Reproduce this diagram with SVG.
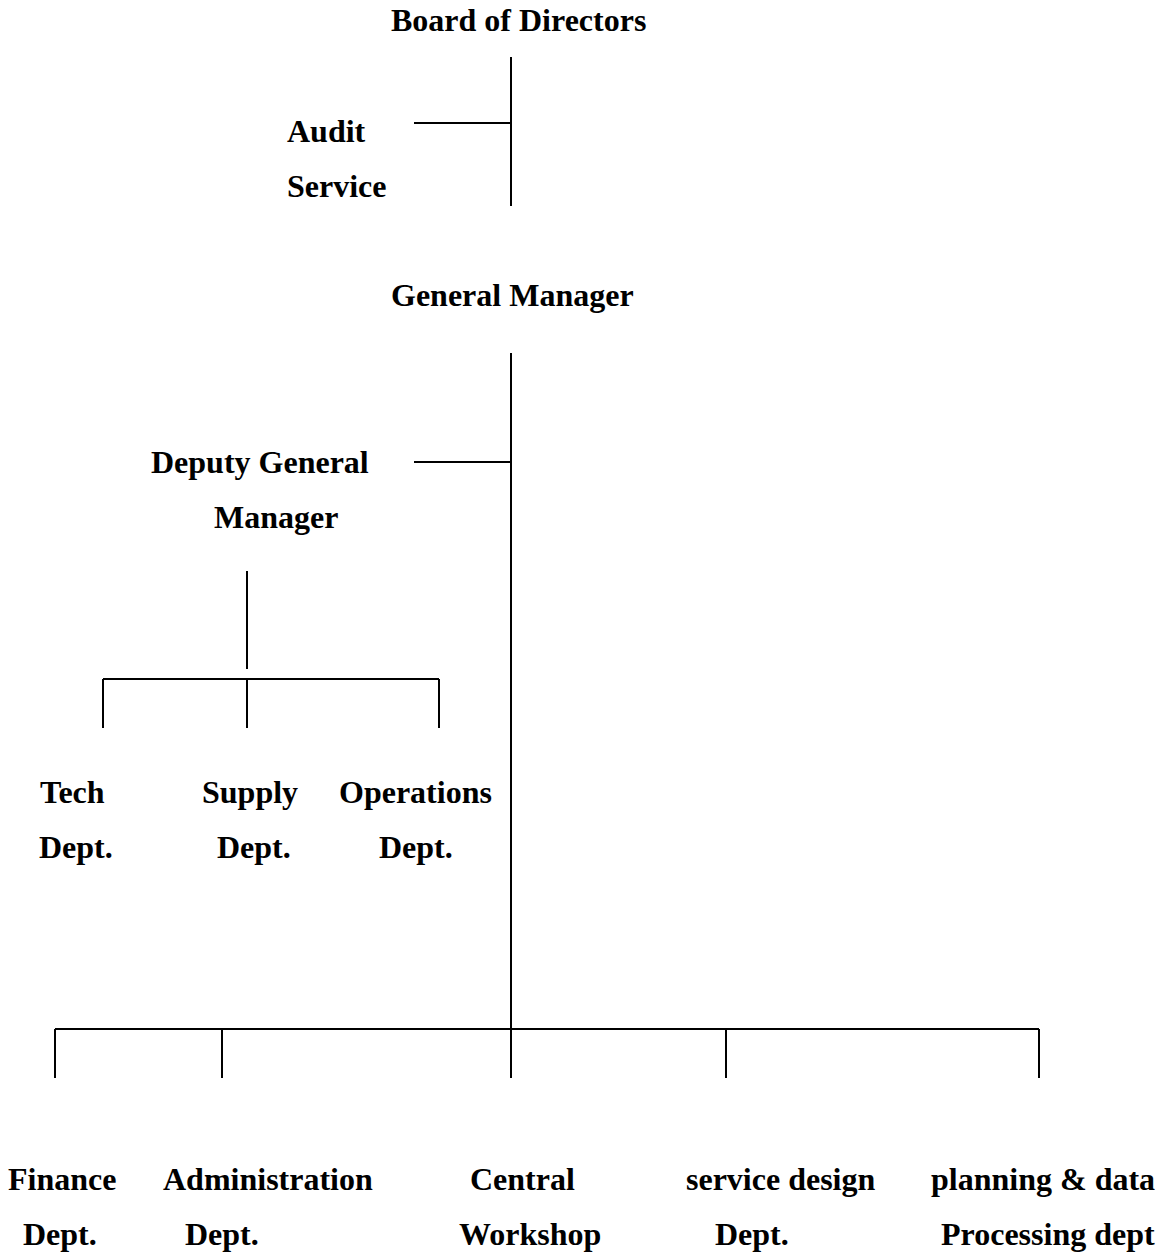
<svg xmlns="http://www.w3.org/2000/svg" width="1160" height="1256" viewBox="0 0 1160 1256">
<style>
text{font-family:"Liberation Serif","Times New Roman",serif;font-weight:bold;font-size:32px;fill:#000}
.c line{stroke:#000;stroke-width:2}
</style>
<rect width="1160" height="1256" fill="#fff"/>
<g class="c" id="connectors">
<line x1="511" y1="57" x2="511" y2="206"/>
<line x1="414" y1="123" x2="511" y2="123"/>
<line x1="511" y1="353" x2="511" y2="1029"/>
<line x1="414" y1="462" x2="511" y2="462"/>
<line x1="247" y1="571" x2="247" y2="669"/>
<line x1="103" y1="679" x2="439" y2="679"/>
<line x1="103" y1="679" x2="103" y2="728"/>
<line x1="247" y1="679" x2="247" y2="728"/>
<line x1="439" y1="679" x2="439" y2="728"/>
<line x1="55" y1="1029" x2="1039" y2="1029"/>
<line x1="55" y1="1029" x2="55" y2="1078"/>
<line x1="222" y1="1029" x2="222" y2="1078"/>
<line x1="511" y1="1029" x2="511" y2="1078"/>
<line x1="726" y1="1029" x2="726" y2="1078"/>
<line x1="1039" y1="1029" x2="1039" y2="1078"/>
</g>
<g id="board"><text x="391" y="31">Board of Directors</text></g>
<g id="audit"><text x="287" y="142">Audit</text><text x="287" y="197">Service</text></g>
<g id="gm"><text x="391" y="306">General Manager</text></g>
<g id="dgm"><text x="151" y="473">Deputy General</text><text x="214" y="528">Manager</text></g>
<g id="tech"><text x="40" y="803">Tech</text><text x="39" y="858">Dept.</text></g>
<g id="supply"><text x="202" y="803">Supply</text><text x="217" y="858">Dept.</text></g>
<g id="operations"><text x="339" y="803">Operations</text><text x="379" y="858">Dept.</text></g>
<g id="finance"><text x="8" y="1190">Finance</text><text x="23" y="1245">Dept.</text></g>
<g id="administration"><text x="163" y="1190">Administration</text><text x="185" y="1245">Dept.</text></g>
<g id="workshop"><text x="470" y="1190">Central</text><text x="459" y="1245">Workshop</text></g>
<g id="servicedesign"><text x="686" y="1190">service design</text><text x="715" y="1245">Dept.</text></g>
<g id="planning"><text x="931" y="1190">planning &amp; data</text><text x="941" y="1245">Processing dept</text></g>
</svg>
